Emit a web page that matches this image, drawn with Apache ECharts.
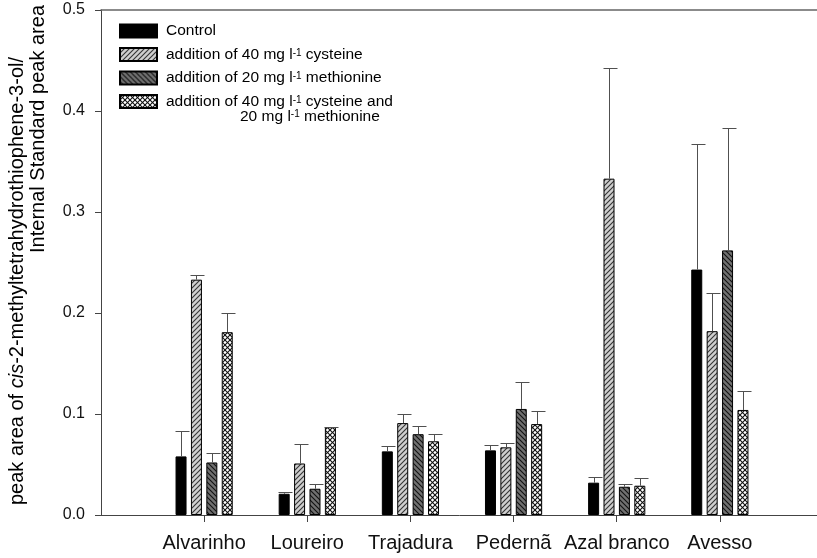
<!DOCTYPE html>
<html><head><meta charset="utf-8">
<script src="https://cdn.jsdelivr.net/npm/echarts@6/dist/echarts.min.js"></script>
<style>html,body{margin:0;padding:0;background:#fff}#c{width:817px;height:558px}</style>
</head><body><div id="c"></div>
<script>
// ---- data ----
const categories = ['', 'Alvarinho', 'Loureiro', 'Trajadura', 'Pedernã', 'Azal branco', 'Avesso', ''];
const seriesNames = [
  'Control',
  'addition of 40 mg l-1 cysteine',
  'addition of 20 mg l-1 methionine',
  'addition of 40 mg l-1 cysteine and 20 mg l-1 methionine'
];
const legendLabels = [
  'Control',
  'addition of 40 mg l{s|-1} cysteine',
  'addition of 20 mg l{s|-1} methionine',
  'addition of 40 mg l{s|-1} cysteine and'
];
const legendSecondLine = '20 mg l{s|-1} methionine';
const yTickLabels = ['0.0', '0.1', '0.2', '0.3', '0.4', '0.5'];
const yTitleLine1 = 'peak area of {i|cis}-2-methyltetrahydrothiophene-3-ol/';
const yTitleLine2 = 'Internal Standard peak area';

const control       = [null, 0.058, 0.021, 0.063, 0.064, 0.032, 0.243, null];
const controlErr    = [null, 0.083, 0.023, 0.068, 0.069, 0.038, 0.367, null];
const cysteine      = [null, 0.233, 0.051, 0.091, 0.067, 0.333, 0.182, null];
const cysteineErr   = [null, 0.238, 0.070, 0.100, 0.071, 0.443, 0.220, null];
const methionine    = [null, 0.052, 0.026, 0.080, 0.105, 0.028, 0.262, null];
const methionineErr = [null, 0.061, 0.031, 0.088, 0.132, 0.031, 0.383, null];
const combined      = [null, 0.181, 0.087, 0.073, 0.090, 0.029, 0.104, null];
const combinedErr   = [null, 0.200, 0.087, 0.080, 0.103, 0.037, 0.123, null];

const values = [control, cysteine, methionine, combined];
const errors = [controlErr, cysteineErr, methionineErr, combinedErr];

// ---- styles ----
const FONT = '"Liberation Sans", Arial, sans-serif';
function makePattern(bg, fg, dirs, size) {
  const c = document.createElement('canvas');
  c.width = size; c.height = size;
  const g = c.getContext('2d');
  g.fillStyle = bg; g.fillRect(0, 0, size, size);
  g.strokeStyle = fg; g.lineWidth = 1.1;
  dirs.forEach(function (d) {
    for (let k = -1; k <= 1; k++) {
      g.beginPath();
      if (d === '/') { g.moveTo(k * size - 1, size + 1); g.lineTo(k * size + size + 1, -1); }
      else { g.moveTo(k * size - 1, -1); g.lineTo(k * size + size + 1, size + 1); }
      g.stroke();
    }
  });
  return { image: c, repeat: 'repeat' };
}
const fills = [
  '#000000',
  makePattern('#cfcfcf', '#333333', ['/'], 5),
  makePattern('#707070', '#111111', ['\\'], 5),
  makePattern('#ffffff', '#111111', ['/', '\\'], 5)
];
const BAR_W = 11, BAR_PITCH = 15.4;

function errRender(s) {
  return function (params, api) {
    const i = api.value(0);
    const base = api.coord([i, api.value(1)]);
    const top = api.coord([i, api.value(2)]);
    const x = Math.round(base[0] + (s - 1.5) * BAR_PITCH) + 0.5;
    const yt = Math.round(top[1]) + 0.5;
    return {
      type: 'group',
      children: [
        { type: 'line', shape: { x1: x, y1: base[1], x2: x, y2: yt }, style: { stroke: '#505050', lineWidth: 1 } },
        { type: 'line', shape: { x1: x - 6, y1: yt, x2: x + 8, y2: yt }, style: { stroke: '#505050', lineWidth: 1 } }
      ]
    };
  };
}

const series = [];
values.forEach(function (vals, s) {
  series.push({
    name: seriesNames[s], type: 'bar', barWidth: BAR_W, barGap: '40%',
    data: vals,
    itemStyle: { color: fills[s], borderColor: '#000', borderWidth: 1 },
    emphasis: { disabled: true }, z: 3
  });
});
errors.forEach(function (errs, s) {
  const d = [];
  errs.forEach(function (e, i) { if (e != null) d.push([i, values[s][i], e]); });
  series.push({
    type: 'custom', renderItem: errRender(s), data: d,
    encode: { x: 0, y: [1, 2] }, z: 4, silent: true
  });
});

const supStyle = { fontSize: 10, fontFamily: FONT, verticalAlign: 'top', lineHeight: 2, color: '#000' };

const chart = echarts.init(document.getElementById('c'), null, { renderer: 'canvas' });
chart.setOption({
  animation: false,
  backgroundColor: '#fff',
  grid: { left: 101, top: 10, width: 722, height: 505, show: false,
    containLabel: false, outerBoundsMode: 'none' },
  xAxis: [{
    type: 'category', data: categories, boundaryGap: false,
    axisLine: { lineStyle: { color: '#444', width: 1 } },
    axisTick: { length: 7, lineStyle: { color: '#444' }, interval: function (i) { return i > 0 && i < categories.length - 1; } },
    axisLabel: { interval: 0, fontSize: 20, fontFamily: FONT, color: '#111', margin: 18 }
  }, {
    type: 'category', data: categories, boundaryGap: false, position: 'top',
    axisLine: { show: true, lineStyle: { color: '#666', width: 1.5 } },
    axisTick: { show: false }, axisLabel: { show: false }
  }],
  yAxis: {
    type: 'value', min: 0, max: 0.5, interval: 0.1,
    axisLine: { show: true, lineStyle: { color: '#444', width: 1 } },
    axisTick: { show: true, length: 6, lineStyle: { color: '#444' } },
    axisLabel: { fontSize: 16, fontFamily: FONT, color: '#111', margin: 16,
      formatter: function (v, idx) { return yTickLabels[idx] != null ? yTickLabels[idx] : v.toFixed(1); } },
    splitLine: { show: false }
  },
  legend: {
    data: seriesNames, orient: 'vertical', left: 114, top: 18,
    itemWidth: 37, itemHeight: 13, itemGap: 7.5, icon: 'rect', selectedMode: false,
    formatter: function (name) { return legendLabels[seriesNames.indexOf(name)]; },
    textStyle: { fontSize: 15.5, fontFamily: FONT, color: '#000', lineHeight: 13, padding: [0, 0, 0, 4],
      rich: { s: supStyle } }
  },
  graphic: [
    { type: 'text', x: 17, y: 57, rotation: Math.PI / 2,
      style: { text: yTitleLine1, font: '20px "Liberation Sans"', fill: '#000',
        align: 'right', verticalAlign: 'middle',
        rich: { i: { font: 'italic 20px "Liberation Sans"', fill: '#000' } } } },
    { type: 'text', x: 38, y: 5, rotation: Math.PI / 2,
      style: { text: yTitleLine2, font: '20px "Liberation Sans"', fill: '#000', align: 'right', verticalAlign: 'middle' } },
    { type: 'text', x: 240, y: 117,
      style: { text: legendSecondLine, font: '15.5px "Liberation Sans"', fill: '#000', align: 'left', verticalAlign: 'middle',
        rich: { s: { font: '10px "Liberation Sans"', verticalAlign: 'top', lineHeight: 2, fill: '#000' } } } }
  ],
  series: series
});
</script>
</body></html>
